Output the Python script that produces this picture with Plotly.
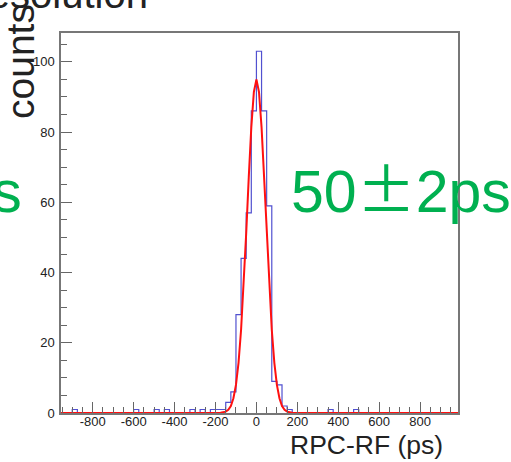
import plotly.graph_objects as go

# histogram of RPC-RF time difference (bin lower edges in ps, 25 ps bins)
bin_width = 25
hist_left = [-900, -600, -500, -450, -325, -275, -225, -200, -175, -150, -125,
             -100, -75, -50, -25, 0, 25, 50, 75, 100, 125, 150, 350, 475]
hist_counts = [1, 1, 1, 1, 1, 1, 1, 1, 1, 3, 6,
               28, 44, 57, 86, 103, 86, 59, 9, 8, 2, 1, 1, 1]

# gaussian fit curve
fit_x = [-955, -200, -175, -150, -137.5, -125, -112.5, -100, -87.5, -75, -62.5,
         -50, -37.5, -25, -12.5, 0, 12.5, 25, 37.5, 50, 62.5, 75, 87.5, 100,
         112.5, 125, 137.5, 150, 175, 200, 985]
fit_y = [0, 0, 0.05, 0.4, 0.9, 2.0, 4.2, 8.0, 14.3, 23.7, 36.2,
         51.2, 67.1, 81.4, 91.4, 95, 91.4, 81.4, 67.1, 51.2, 36.2, 23.7, 14.3, 8.0,
         4.2, 2.0, 0.9, 0.4, 0.05, 0, 0]

x_ticks = [-800, -600, -400, -200, 0, 200, 400, 600, 800]
y_ticks = [0, 20, 40, 60, 80, 100]

x_range = [-955, 985]
y_range = [0, 108.2]

# full step series over the histogram range
counts_by_bin = dict(zip(hist_left, hist_counts))
edges = list(range(-950, 1000 + bin_width, bin_width))
step_y = [counts_by_bin.get(e, 0) for e in edges]

W, H = 511, 462
L, R, T, B = 61, 458, 33, 413


def px(xp):
    return (xp - L) / (R - L)


def py(yp):
    return (B - yp) / (B - T)


FONT = "Liberation Sans, Arial, Helvetica, sans-serif"
GREEN = "#00b050"
PM = '<span style="font-family:Noto Sans CJK JP">±</span>'

fig = go.Figure()
fig.add_trace(go.Scatter(
    x=edges, y=step_y, mode="lines", line_shape="hv",
    line=dict(color="rgba(50,50,200,0.85)", width=1.2),
    hoverinfo="skip", showlegend=False
))
fig.add_trace(go.Scatter(
    x=fit_x, y=fit_y, mode="lines",
    line=dict(color="#ff1010", width=2),
    hoverinfo="skip", showlegend=False
))

axis_common = dict(
    showgrid=False, zeroline=False, showline=True, mirror=True,
    linecolor="#777777", linewidth=1.5,
    ticks="inside", ticklen=11, tickcolor="#666666", tickwidth=1.2,
    tickfont=dict(family=FONT, size=13, color="#222222"),
)

fig.update_xaxes(
    range=x_range, tickvals=x_ticks, ticktext=[str(v) for v in x_ticks],
    minor=dict(dtick=50, tick0=0, ticks="inside", ticklen=6, tickcolor="#666666"),
    ticklabelstandoff=-4,
    **axis_common
)
fig.update_yaxes(
    range=y_range, tickvals=y_ticks, ticktext=[str(v) for v in y_ticks],
    minor=dict(dtick=5, tick0=0, ticks="inside", ticklen=6, tickcolor="#666666"),
    ticklabelstandoff=2,
    **axis_common
)

annotations = [
    dict(text="counts", x=px(20), y=py(62), textangle=-90, font=dict(size=39, color="#222222")),
    dict(text="Time resolution", x=px(150), y=py(-6), xanchor="right", font=dict(size=40, color="#222222")),
    dict(text="50" + PM + "2ps", x=px(289), y=py(186),
         xanchor="left", font=dict(size=59, color=GREEN)),
    dict(text="45" + PM + "3ps", x=px(24), y=py(186),
         xanchor="right", font=dict(size=59, color=GREEN)),
    dict(text="RPC-RF (ps)", x=px(445), y=py(445), xanchor="right", font=dict(size=26.5, color="#222222")),
]
for a in annotations:
    a.update(xref="paper", yref="paper", showarrow=False)
    a.setdefault("xanchor", "center")
    a["yanchor"] = "middle"
    a["font"]["family"] = FONT

fig.update_layout(
    width=W, height=H,
    margin=dict(l=L, r=W - R, t=T, b=H - B),
    paper_bgcolor="white", plot_bgcolor="white",
    annotations=annotations,
    showlegend=False,
)

fig.write_html("out.html", config={"displayModeBar": False},
               post_script="document.body.style.margin='0px';")
